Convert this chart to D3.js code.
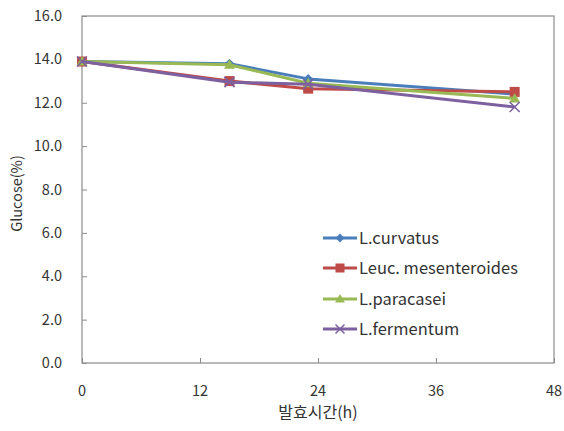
<!DOCTYPE html>
<html>
<head>
<meta charset="utf-8">
<script src="https://cdn.jsdelivr.net/npm/d3@7"></script>
<style>
  body { margin: 0; background: #fff; }
  text { font-family: "Noto Sans CJK KR", "Noto Sans", sans-serif; fill: #333; }
</style>
</head>
<body>
<svg id="chart" width="564" height="431"></svg>
<script>
// Fermentation time (h) at which glucose was measured
const hours = [0, 15, 23, 44];

// Glucose (%) per strain
const curvatus   = [13.9, 13.8, 13.1, 12.4];
const leuc       = [13.9, 13.0, 12.65, 12.5];
const paracasei  = [13.9, 13.75, 12.9, 12.2];
const fermentum  = [13.9, 12.95, 12.85, 11.8];

const seriesNames = ["L.curvatus", "Leuc. mesenteroides", "L.paracasei", "L.fermentum"];
const seriesValues = [curvatus, leuc, paracasei, fermentum];
const seriesColors = ["#4a7ebb", "#be4b48", "#98b954", "#7d60a0"];
const seriesMarkers = ["diamond", "square", "triangle", "cross"];

const xTicks = [0, 12, 24, 36, 48];
const yTicks = [0, 2, 4, 6, 8, 10, 12, 14, 16];

const svg = d3.select("#chart");
const plotL = 82, plotR = 554, plotT = 16, plotB = 363;

const x = d3.scaleLinear().domain([0, 48]).range([plotL, plotR]);
const y = d3.scaleLinear().domain([0, 16]).range([plotB, plotT]);

// plot frame
svg.append("rect")
  .attr("x", plotL).attr("y", plotT)
  .attr("width", plotR - plotL).attr("height", plotB - plotT)
  .attr("fill", "none").attr("stroke", "#8c8c8c").attr("stroke-width", 1.2);

// x axis: inward ticks, labels below
const xAxis = svg.append("g").attr("transform", `translate(0,${plotB})`)
  .call(d3.axisTop(x).tickValues(xTicks).tickSize(5).tickFormat(""));
xAxis.select(".domain").remove();
xAxis.selectAll("line").attr("stroke", "#8c8c8c");
svg.append("g").selectAll("text").data(xTicks).join("text")
  .attr("x", d => x(d)).attr("y", 396)
  .attr("text-anchor", "middle").attr("font-size", 14.5)
  .text(d => d);

// y axis: inward ticks, labels left
const yAxis = svg.append("g").attr("transform", `translate(${plotL},0)`)
  .call(d3.axisRight(y).tickValues(yTicks).tickSize(5).tickFormat(""));
yAxis.select(".domain").remove();
yAxis.selectAll("line").attr("stroke", "#8c8c8c");
svg.append("g").selectAll("text").data(yTicks).join("text")
  .attr("x", 62).attr("y", d => y(d) + 5)
  .attr("text-anchor", "end").attr("font-size", 14.5)
  .text(d => d.toFixed(1));

// axis titles
svg.append("text")
  .attr("x", 318).attr("y", 418)
  .attr("text-anchor", "middle").attr("font-size", 16)
  .text("발효시간(h)");
svg.append("text")
  .attr("transform", `translate(22,${(plotT + plotB) / 2 + 4}) rotate(-90)`)
  .attr("text-anchor", "middle").attr("font-size", 14.5)
  .text("Glucose(%)");

function marker(g, type, color, cx, cy, s) {
  if (type === "diamond") {
    g.append("path").attr("d", `M${cx},${cy - s}L${cx + s},${cy}L${cx},${cy + s}L${cx - s},${cy}Z`).attr("fill", color);
  } else if (type === "square") {
    g.append("rect").attr("x", cx - s).attr("y", cy - s).attr("width", 2 * s).attr("height", 2 * s).attr("fill", color);
  } else if (type === "triangle") {
    g.append("path").attr("d", `M${cx},${cy - s * 1.1}L${cx + s * 1.1},${cy + s * 0.8}L${cx - s * 1.1},${cy + s * 0.8}Z`).attr("fill", color);
  } else {
    g.append("path").attr("d", `M${cx - s},${cy - s}L${cx + s},${cy + s}M${cx - s},${cy + s}L${cx + s},${cy - s}`)
      .attr("stroke", color).attr("stroke-width", 1.5).attr("fill", "none");
  }
}

const line = d3.line().x((d, i) => x(hours[i])).y(d => y(d));

seriesValues.forEach((vals, k) => {
  const g = svg.append("g");
  g.append("path").datum(vals)
    .attr("d", line)
    .attr("fill", "none").attr("stroke", seriesColors[k])
    .attr("stroke-width", 3).attr("stroke-linejoin", "round");
  vals.forEach((v, i) => marker(g, seriesMarkers[k], seriesColors[k], x(hours[i]), y(v), 5));
});

// legend
const legY = [238, 268, 299, 329];
seriesNames.forEach((name, k) => {
  const g = svg.append("g");
  g.append("line").attr("x1", 323).attr("x2", 357).attr("y1", legY[k]).attr("y2", legY[k])
    .attr("stroke", seriesColors[k]).attr("stroke-width", 3);
  marker(g, seriesMarkers[k], seriesColors[k], 340, legY[k], 4.5);
  g.append("text").attr("x", 359).attr("y", legY[k] + 6)
    .attr("font-size", 16.5).text(name);
});
</script>
</body>
</html>
